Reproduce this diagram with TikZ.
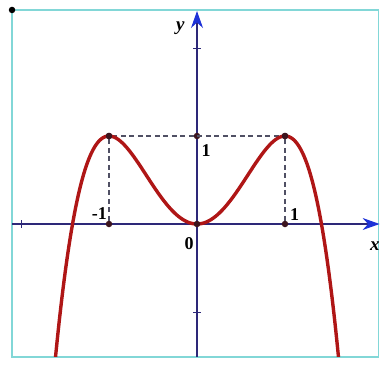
\documentclass[tikz,border=0pt]{standalone}
\usepackage{fontspec}
\setmainfont{Liberation Serif}
\usetikzlibrary{arrows.meta}
\definecolor{framec}{RGB}{130,215,215}
\definecolor{axisc}{RGB}{45,40,120}
\definecolor{arrowc}{RGB}{30,50,215}
\definecolor{curvec}{RGB}{175,22,22}
\definecolor{dashc}{RGB}{80,80,100}
\definecolor{dotc}{RGB}{60,20,30}
\tikzset{
  axisline/.style={draw=axisc, line width=1.1pt, -{Stealth[length=17pt,width=12pt,color=arrowc]}},
  framebox/.style={draw=framec, line width=1.4pt},
  curveline/.style={draw=curvec, line width=3.4pt},
  guide/.style={draw=dashc, line width=1.2pt, dash pattern=on 5pt off 3.5pt},
  pt/.style={circle, fill=dotc, inner sep=0pt, minimum size=6.5pt},
  lab/.style={font=\fontsize{18}{18}\selectfont\bfseries, inner sep=0pt},
  tickm/.style={draw=axisc, line width=0.8pt}
}
\begin{document}
\begin{tikzpicture}[x=88pt,y=88pt]
\useasboundingbox (-2.2386,-1.6477) rectangle (2.0795,2.5455);
% frame
\draw[framebox] (-2.102,-1.511) rectangle (2.06,2.432);
\node[circle, fill=black, inner sep=0pt, minimum size=6.5pt] (corner) at (-2.102,2.432) {};
% axes
\coordinate (xs) at (-2.102,0);
\coordinate (xe) at (2.075,0);
\coordinate (ys) at (0,-1.511);
\coordinate (ye) at (0,2.42);
\draw[axisline] (xs) -- (xe);
\draw[axisline] (ys) -- (ye);
% ticks
\draw[tickm] (-0.04,2) -- (0.04,2);
\draw[tickm] (-0.04,-1) -- (0.04,-1);
\draw[tickm] (-2,-0.04) -- (-2,0.04);
% dashed guides
\node[pt] (A) at (-1,1) {};
\node[pt] (B) at (1,1) {};
\node[pt] (C) at (0,1) {};
\node[pt] (D) at (-1,0) {};
\node[pt] (E) at (1,0) {};
\draw[guide] (A) -- (B);
\draw[guide] (A) -- (D);
\draw[guide] (B) -- (E);
% curve
\begin{scope}
\clip (-2.102,-1.511) rectangle (2.06,2.432);
\draw[curveline, smooth, samples=200, domain=-1.62:1.62] plot (\x,{2*\x*\x-\x*\x*\x*\x});
\end{scope}
\node[pt] (O) at (0,0) {};
\node[pt] at (A) {};
\node[pt] at (B) {};
% labels
\node[lab] (lm1) at (-1.11,0.12) {-1};
\node[lab] (lp1) at (1.11,0.105) {1};
\node[lab] (l0) at (-0.09,-0.22) {0};
\node[lab] (ly1) at (0.105,0.84) {1};
\node[lab, font=\fontsize{19}{19}\selectfont\bfseries\itshape] (ly) at (-0.19,2.22) {y};
\node[lab, font=\fontsize{19}{19}\selectfont\bfseries\itshape] (lx) at (2.02,-0.25) {x};
\end{tikzpicture}
\end{document}
